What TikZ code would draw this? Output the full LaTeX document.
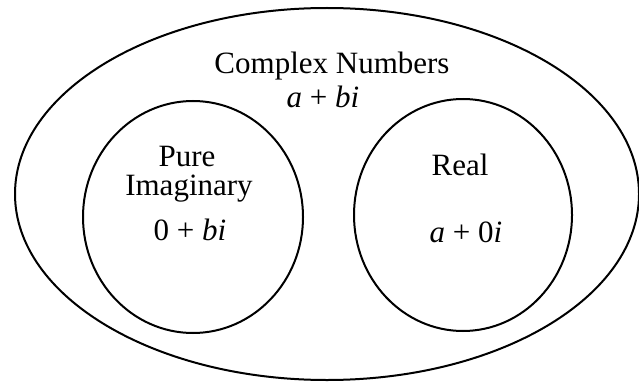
\documentclass[tikz,border=0pt]{standalone}
\usepackage{fontspec}
\setmainfont{Liberation Serif}
\usepackage{tikz}
\usetikzlibrary{positioning,shapes.geometric}

\begin{document}
\begin{tikzpicture}[
  x=1pt, y=1pt,
  set/.style={draw=black, line width=2pt, ellipse, inner sep=0pt},
  setname/.style={anchor=base, inner sep=0pt, font=\fontsize{31}{33}\selectfont},
  form/.style={anchor=base, inner sep=0pt, font=\fontsize{31}{33}\selectfont}
]
\useasboundingbox (0,0) rectangle (639,381);
\node[set, minimum width=624, minimum height=372] (complex) at (327,187) {};
\node[set, minimum width=220, minimum height=232] (pureim) at (193,164) {};
\node[set, minimum width=218, minimum height=232] (real) at (463,166) {};
\node[setname] (complexname) at (332,308) {Complex Numbers};
\node[form] (complexform) at (323,273) {\textit{a} + \textit{bi}};
\node[setname] (purename) at (187,215) {Pure};
\node[setname] (imname) at (189,186) {Imaginary};
\node[form] (pureform) at (190,141) {0 + \textit{bi}};
\node[setname] (realname) at (460,206) {Real};
\node[form] (realform) at (466,139) {\textit{a} + 0\textit{i}};
\end{tikzpicture}
\end{document}
